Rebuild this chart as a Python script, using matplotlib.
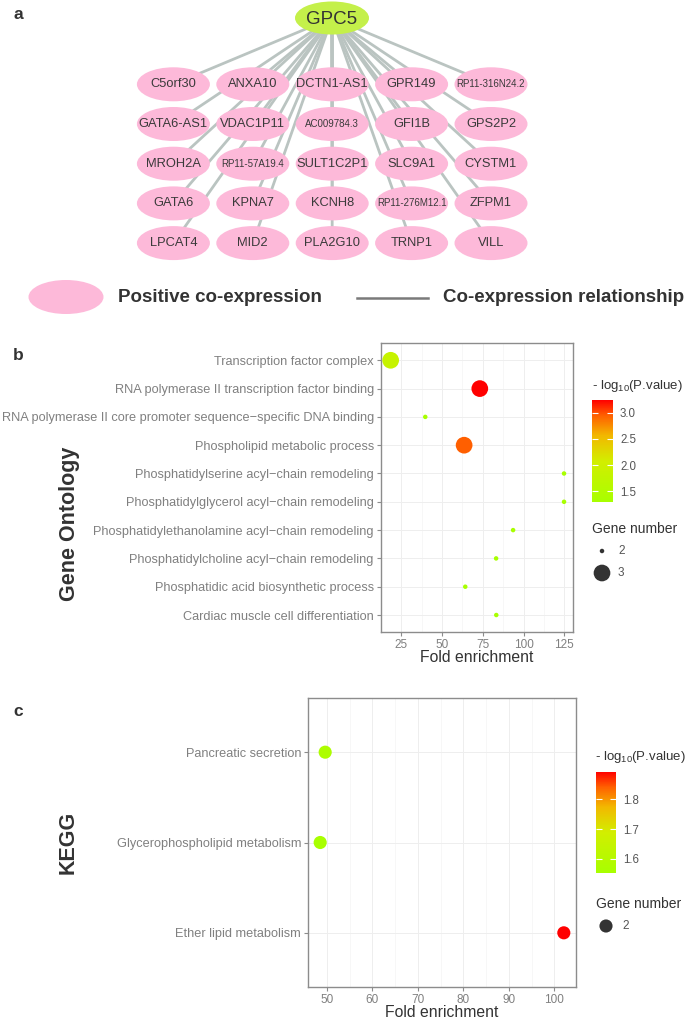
import numpy as np
import matplotlib
matplotlib.use("Agg")
import matplotlib.pyplot as plt
from matplotlib.patches import Ellipse
from matplotlib.colors import LinearSegmentedColormap, Normalize
from matplotlib.colorbar import ColorbarBase

plt.rcParams['font.family'] = ['Liberation Sans', 'DejaVu Sans']
plt.rcParams['mathtext.fontset'] = 'custom'
plt.rcParams['mathtext.rm'] = 'Liberation Sans'

# ---- data ----
hub = "GPC5"
genes = [
    ["C5orf30", "ANXA10", "DCTN1-AS1", "GPR149", "RP11-316N24.2"],
    ["GATA6-AS1", "VDAC1P11", "AC009784.3", "GFI1B", "GPS2P2"],
    ["MROH2A", "RP11-57A19.4", "SULT1C2P1", "SLC9A1", "CYSTM1"],
    ["GATA6", "KPNA7", "KCNH8", "RP11-276M12.1", "ZFPM1"],
    ["LPCAT4", "MID2", "PLA2G10", "TRNP1", "VILL"],
]

go_terms = [
    "Transcription factor complex",
    "RNA polymerase II transcription factor binding",
    "RNA polymerase II core promoter sequence\u2212specific DNA binding",
    "Phospholipid metabolic process",
    "Phosphatidylserine acyl\u2212chain remodeling",
    "Phosphatidylglycerol acyl\u2212chain remodeling",
    "Phosphatidylethanolamine acyl\u2212chain remodeling",
    "Phosphatidylcholine acyl\u2212chain remodeling",
    "Phosphatidic acid biosynthetic process",
    "Cardiac muscle cell differentiation",
]
go_fold = [18.6, 73.2, 39.8, 63.6, 124.8, 124.8, 93.6, 83.2, 64.3, 83.3]
go_logp = [1.85, 3.24, 1.30, 2.95, 1.30, 1.30, 1.31, 1.30, 1.30, 1.30]
go_count = [3, 3, 2, 3, 2, 2, 2, 2, 2, 2]

kegg_terms = ["Pancreatic secretion", "Glycerophospholipid metabolism",
              "Ether lipid metabolism"]
kegg_fold = [49.6, 48.5, 102.1]
kegg_logp = [1.57, 1.554, 1.893]
kegg_count = [2, 2, 2]

W, H = 685, 1018
GRAY_TXT = '#808080'
DARK = '#333333'


def px_rect(l, t, r, b):
    return [l / W, 1 - b / H, (r - l) / W, (b - t) / H]


cmap = LinearSegmentedColormap.from_list(
    "grn_red", [(0.0, '#A8FF00'), (0.4, '#D2EE00'), (0.65, '#F2B800'),
                (0.85, '#FF6000'), (1.0, '#FF0000')])


def dot_px(counts):
    c = np.asarray(counts, float)
    if c.max() > c.min():
        r = (c - c.min()) / (c.max() - c.min())
    else:
        r = np.full_like(c, 0.5)
    d = 4.5 + 12.2 * np.sqrt(r)
    return (d * 72 / 100) ** 2


fig = plt.figure(figsize=(W / 100, H / 100), dpi=100)
ax0 = fig.add_axes([0, 0, 1, 1])
ax0.set_xlim(0, W)
ax0.set_ylim(H, 0)
ax0.axis('off')

# ---- panel a: network ----
hub_xy = (332, 18)
col_x = 173.4 + 79.4 * np.arange(5)
row_y = 84.3 + 39.7 * np.arange(5)
for i, row in enumerate(genes):
    for j, g in enumerate(row):
        ax0.plot([hub_xy[0], col_x[j]], [hub_xy[1], row_y[i]],
                 color='#BAC4C1', lw=2.0, zorder=1, solid_capstyle='butt')
for i, row in enumerate(genes):
    for j, g in enumerate(row):
        ax0.add_patch(Ellipse((col_x[j], row_y[i]), 73, 34,
                              facecolor='#FDB9D9', edgecolor='none', zorder=2))
        ax0.text(col_x[j], row_y[i], g, ha='center', va='center',
                 fontsize=7 if len(g) >= 10 else 9.3, color='#3a3a3a', zorder=3)
ax0.add_patch(Ellipse(hub_xy, 74, 33, facecolor='#C4F04A', edgecolor='none', zorder=2))
ax0.text(hub_xy[0], hub_xy[1] + 1, hub, ha='center', va='center', fontsize=13.5,
         color='#333333', zorder=3)

# legend of network
ax0.add_patch(Ellipse((66, 297), 75, 34, facecolor='#FDB9D9', edgecolor='none'))
ax0.text(118, 298, "Positive co-expression", ha='left', va='center',
         fontsize=13.5, fontweight='bold', color=DARK)
ax0.plot([357, 428], [298, 298], color='#7a7a7a', lw=1.8)
ax0.text(443, 297, "Co-expression relationship", ha='left', va='center',
         fontsize=13.5, fontweight='bold', color=DARK)

# panel letters
for lab, y in (("a", 14), ("b", 356), ("c", 712)):
    ax0.text(18, y, lab, ha='center', va='center', fontsize=12.5,
             fontweight='bold', color=DARK)
ax0.text(70, 524, "Gene Ontology", rotation=90, ha='center', va='center',
         fontsize=15.5, fontweight='bold', color=DARK)
ax0.text(68, 842, "KEGG", rotation=90, ha='center', va='center',
         fontsize=15.5, fontweight='bold', color=DARK)


def dot_panel(rect, terms, fold, logp, count, majors, minors, cbar_rect,
              cbar_ticks, title_xy, size_xy):
    ax = fig.add_axes(rect)
    n = len(terms)
    ypos = np.arange(n)[::-1]
    lo, hi = min(fold), max(fold)
    pad = 0.05 * (hi - lo)
    ax.set_xlim(lo - pad, hi + pad)
    ax.set_ylim(-0.6, n - 0.4)
    norm = Normalize(min(logp), max(logp))
    ax.scatter(fold, ypos, s=dot_px(count), c=logp, cmap=cmap, norm=norm,
               edgecolors='none', zorder=3, clip_on=False)
    ax.set_yticks(ypos)
    ax.set_yticklabels(terms)
    ax.set_xticks(majors)
    ax.set_xticks(minors, minor=True)
    ax.set_axisbelow(True)
    ax.grid(which='major', color='#EEEEEE', lw=0.7)
    ax.grid(which='minor', axis='x', color='#F3F3F3', lw=0.45)
    ax.tick_params(which='major', length=3, color='#8C8C8C', width=0.8,
                   labelcolor=GRAY_TXT, pad=2)
    ax.tick_params(axis='y', labelsize=9.2)
    ax.tick_params(axis='x', labelsize=8.5)
    ax.tick_params(which='minor', length=0)
    for sp in ax.spines.values():
        sp.set_color('#8C8C8C')
        sp.set_linewidth(1.0)
    ax.set_xlabel("Fold enrichment", fontsize=11.3, color=DARK, labelpad=-1)

    cax = fig.add_axes(cbar_rect)
    cb = ColorbarBase(cax, cmap=cmap, norm=norm, orientation='vertical')
    cb.outline.set_visible(False)
    cb.set_ticks(cbar_ticks)
    cb.set_ticklabels([f"{t:.1f}" for t in cbar_ticks])
    cax.tick_params(axis='y', which='both', direction='in', left=True,
                    right=True, color='white', length=4, width=0.8,
                    labelsize=8.3, labelcolor='#555555', pad=5)
    cax.minorticks_off()

    ax0.text(title_xy[0], title_xy[1], r"- log$_{\mathregular{10}}$(P.value)",
             ha='left', va='center', fontsize=9.5, color=DARK)
    sx, sy = size_xy
    ax0.text(sx, sy, "Gene number", ha='left', va='center', fontsize=10, color=DARK)
    uniq = sorted(set(count))
    sizes = dot_px(uniq)
    for k, (u, s) in enumerate(zip(uniq, sizes)):
        yy = sy + 22 + 22 * k
        ax0.scatter([sx + 10], [yy], s=s, color='#333333', edgecolors='none')
        ax0.text(sx + 26, yy, str(u), ha='left', va='center', fontsize=8.5,
                 color='#555555')
    return ax


dot_panel(px_rect(380.7, 343.3, 572.7, 632), go_terms, go_fold, go_logp, go_count,
          [25, 50, 75, 100, 125], [12.5, 37.5, 62.5, 87.5, 112.5],
          px_rect(592, 400, 613, 502), [1.5, 2.0, 2.5, 3.0], (592, 386), (592, 529))

dot_panel(px_rect(308, 698, 576, 987), kegg_terms, kegg_fold, kegg_logp, kegg_count,
          [50, 60, 70, 80, 90, 100], [55, 65, 75, 85, 95],
          px_rect(595.7, 771.7, 616.3, 872.7), [1.6, 1.7, 1.8], (595, 757), (596, 904))

fig.savefig("out.png", dpi=100)
